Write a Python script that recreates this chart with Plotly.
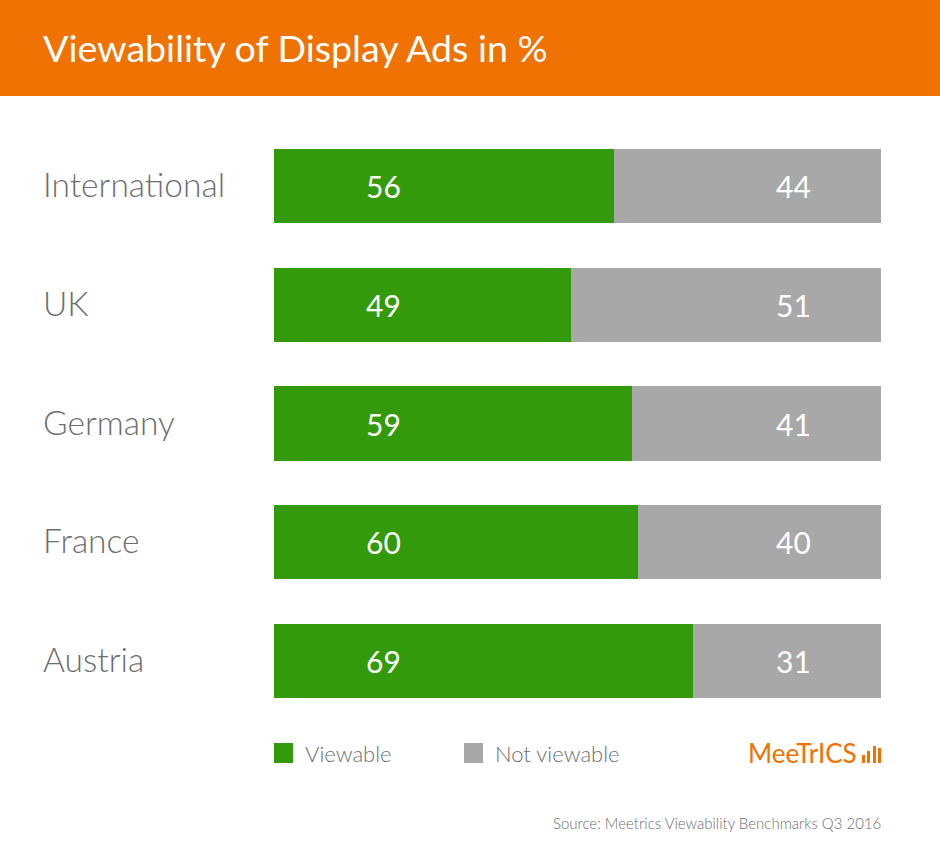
import plotly.graph_objects as go

# values
countries = ['International', 'UK', 'Germany', 'France', 'Austria']
viewable = [56, 49, 59, 60, 69]
not_viewable = [44, 51, 41, 40, 31]
series_names = ['Viewable', 'Not viewable']

GREEN = '#339A0B'
GRAY = '#A8A8A8'
ORANGE = '#EF7203'
TEXT = '#6E6E6E'
FONT = 'Lato'

W, H = 940, 844
LEFT, RIGHT, TOP, BOTTOM = 274, 881, 127, 720


# pixel position -> paper coordinates
def px(x):
    return (x - LEFT) / (RIGHT - LEFT)


def py(y):
    return (BOTTOM - y) / (BOTTOM - TOP)


def label(x, y, text, size, color=TEXT, xanchor='left', xref='paper', yref='paper', weight=300, yshift=0):
    return dict(x=x, y=y, xref=xref, yref=yref, text=text, showarrow=False, xanchor=xanchor, yanchor='middle',
                yshift=yshift, font=dict(family=FONT, size=size, color=color, weight=weight))


fig = go.Figure()
fig.add_trace(go.Bar(y=countries, x=viewable, name=series_names[0], orientation='h',
                     marker=dict(color=GREEN, line_width=0), width=0.625))
fig.add_trace(go.Bar(y=countries, x=not_viewable, name=series_names[1], orientation='h',
                     marker=dict(color=GRAY, line_width=0), width=0.625))

annotations = []
shapes = []

# value labels sit at a fixed place in each bar
for c, a, b in zip(countries, viewable, not_viewable):
    annotations.append(label(18, c, str(a), 30, 'white', 'center', 'x', 'y', weight=400))
    annotations.append(label(85.6, c, str(b), 30, 'white', 'center', 'x', 'y', weight=400))
    # left aligned category labels
    annotations.append(label(px(41), c, c, 33.5, yref='y', yshift=2))

# header band
shapes.append(dict(type='rect', xref='paper', yref='paper', x0=px(0), x1=px(W), y0=py(0), y1=py(96),
                   fillcolor=ORANGE, line_width=0, layer='below'))
annotations.append(label(px(41), py(48), 'Viewability of Display Ads in %', 37.6, 'white', weight=400))

# legend
for name, color, x0 in zip(series_names, [GREEN, GRAY], [274, 464]):
    shapes.append(dict(type='rect', xref='paper', yref='paper', x0=px(x0), x1=px(x0 + 19),
                       y0=py(763), y1=py(743), fillcolor=color, line_width=0))
    annotations.append(label(px(x0 + 29), py(753), name, 22))

# logo
annotations.append(label(px(859), py(753), 'MeeTrICS', 26, ORANGE, 'right', weight=400))
for x0, top in zip([862, 867, 873, 878], [755, 751, 746, 748]):
    shapes.append(dict(type='rect', xref='paper', yref='paper', x0=px(x0), x1=px(x0 + 3),
                       y0=py(763), y1=py(top), fillcolor=ORANGE, line_width=0))

# source
annotations.append(label(px(883), py(823), 'Source: Meetrics Viewability Benchmarks Q3 2016', 15, xanchor='right'))

fig.update_layout(
    barmode='stack',
    width=W, height=H,
    margin=dict(l=LEFT, r=W - RIGHT, t=TOP, b=H - BOTTOM, pad=0),
    paper_bgcolor='white', plot_bgcolor='white',
    showlegend=False,
    xaxis=dict(range=[0, 100], visible=False),
    yaxis=dict(autorange='reversed', visible=False, categoryorder='array', categoryarray=countries),
    annotations=annotations,
    shapes=shapes,
)

fig.write_html("out.html", config=dict(displayModeBar=False),
               post_script="document.body.style.margin = '0';")
